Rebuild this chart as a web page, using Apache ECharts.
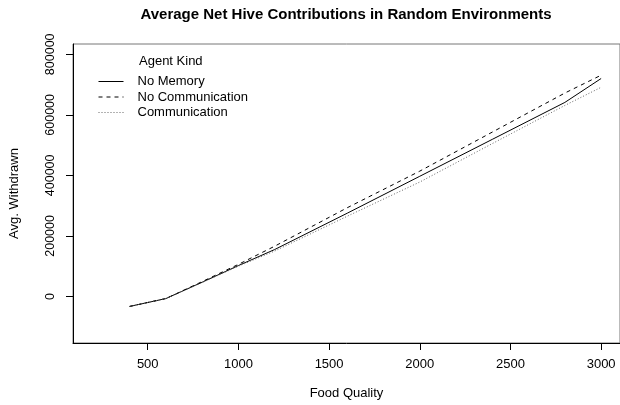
<!DOCTYPE html>
<html>
<head>
<meta charset="utf-8">
<script src="https://cdn.jsdelivr.net/npm/echarts@6/dist/echarts.min.js"></script>
<style>html,body{margin:0;padding:0;background:#fff}#c{width:620px;height:405px}</style>
</head>
<body>
<div id="c"></div>
<script>
const foodQuality = [400, 600, 800, 1000, 1200, 1600, 2000, 2400, 2800, 3000];
const noMemory = [-33000, -7000, 47000, 102000, 155000, 275000, 397000, 519000, 641000, 720000];
const noCommunication = [-33000, -7000, 49000, 106000, 166000, 293000, 414000, 543000, 672000, 731000];
const communication = [-33000, -7000, 46000, 100000, 150000, 265000, 378000, 505000, 631000, 691000];
const xTicks = [500, 1000, 1500, 2000, 2500, 3000];
const yTicks = [0, 200000, 400000, 600000, 800000];

const pairs = arr => foodQuality.map((x, i) => [x, arr[i]]);
const font = '"Liberation Sans", Arial, sans-serif';
const chart = echarts.init(document.getElementById('c'), null, {renderer: 'canvas'});
chart.setOption({
  animation: false,
  backgroundColor: '#fff',
  title: {
    text: 'Average Net Hive Contributions in Random Environments',
    left: 346, top: 7, padding: 0, textAlign: 'center',
    textStyle: {fontFamily: font, fontWeight: 'bold', fontSize: 15, color: '#000'}
  },
  grid: {left: 72, right: -1, top: 44, bottom: 62, show: true, borderColor: '#777', borderWidth: 1, backgroundColor: 'transparent'},
  legend: {
    orient: 'vertical', left: 98, top: 75, padding: 0, itemGap: 2.5, itemWidth: 25, itemHeight: 11,
    itemStyle: {opacity: 0},
    lineStyle: {width: 1},
    textStyle: {fontFamily: font, fontSize: 13, color: '#000', padding: [0, 0, 0, 9]},
    data: ['No Memory', 'No Communication', 'Communication']
  },
  graphic: [{type: 'text', left: 139, top: 55, style: {text: 'Agent Kind', font: '13px ' + font, fill: '#000'}}],
  xAxis: {
    type: 'value', min: 88, max: 3104,
    name: 'Food Quality', nameLocation: 'middle', nameGap: 44,
    nameTextStyle: {fontFamily: font, fontSize: 13, color: '#000'},
    axisLine: {show: true, onZero: false, lineStyle: {color: '#000', width: 1}},
    axisTick: {show: true, inside: false, length: 7, lineStyle: {color: '#000'}, customValues: xTicks},
    axisLabel: {fontFamily: font, fontSize: 13, color: '#000', margin: 15, customValues: xTicks, formatter: v => String(v)},
    splitLine: {show: false}
  },
  yAxis: {
    type: 'value', min: -153800, max: 834000,
    name: 'Avg. Withdrawn', nameLocation: 'middle', nameGap: 52,
    nameTextStyle: {fontFamily: font, fontSize: 13, color: '#000'},
    axisLine: {show: true, onZero: false, lineStyle: {color: '#000', width: 1}},
    axisTick: {show: true, length: 7, lineStyle: {color: '#000'}, customValues: yTicks},
    axisLabel: {fontFamily: font, fontSize: 12.5, color: '#000', rotate: 90, margin: 16, customValues: yTicks, formatter: v => String(v)},
    splitLine: {show: false}
  },
  series: [
    {name: 'No Memory', type: 'line', data: pairs(noMemory), symbol: 'none', lineStyle: {color: '#000', width: 1, type: 'solid'}, itemStyle: {color: '#000'}},
    {name: 'No Communication', type: 'line', data: pairs(noCommunication), symbol: 'none', lineStyle: {color: '#000', width: 1, type: [4, 4]}, itemStyle: {color: '#000'}},
    {name: 'Communication', type: 'line', data: pairs(communication), symbol: 'none', lineStyle: {color: '#666', width: 1, type: [1, 2]}, itemStyle: {color: '#666'}}
  ]
});
</script>
</body>
</html>
